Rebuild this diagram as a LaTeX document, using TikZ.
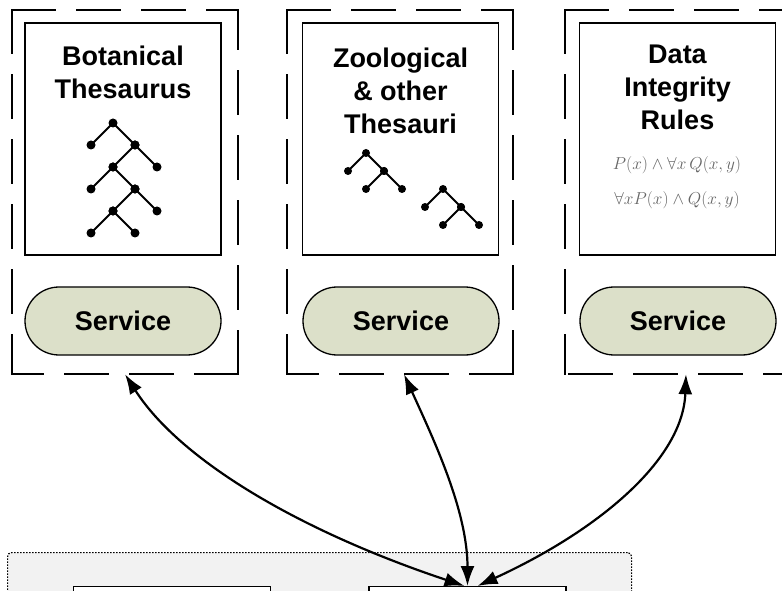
\documentclass[tikz,border=0pt]{standalone}
\usepackage{fontspec}
\setmainfont{Liberation Sans}
\usepackage{amsmath, amssymb}
\usetikzlibrary{arrows.meta}

\definecolor{svcfill}{HTML}{DCE0C9}
\definecolor{basefill}{HTML}{F2F2F2}

\tikzset{
  group/.style={minimum width=226pt, minimum height=364pt, inner sep=0pt},
  edge/.style={line width=2.3pt, dash pattern=on 43pt off 22pt, line cap=rect},
  panel/.style={draw, line width=1.3pt, fill=white, minimum width=196pt, minimum height=232pt, inner sep=0pt},
  svc/.style={draw, line width=1.3pt, fill=svcfill, rounded corners=34pt, minimum width=196pt,
    minimum height=68pt, font=\bfseries\fontsize{27}{33}\selectfont},
  heading/.style={anchor=north, align=center, inner sep=0pt, font=\bfseries\fontsize{27}{33}\selectfont},
  rule/.style={text=black!60, font=\fontsize{17}{20}\selectfont},
  store/.style={draw, line width=1.3pt, fill=white, minimum width=197pt, minimum height=40pt, anchor=north},
  twig/.style={line width=2pt},
  link/.style={line width=2.2pt, {Latex[length=20pt,width=14pt]}-{Latex[length=20pt,width=14pt]}},
}

\begin{document}
\begin{tikzpicture}[x=1pt, y=1pt]
  \clip (0,0) rectangle (782,590);

  % three service groups
  \node[group] (grpA) at (125,398) {};
  \node[group] (grpB) at (400,398) {};
  \node[group, minimum width=242pt] (grpC) at (686,398) {};
  \foreach \g in {grpA, grpB, grpC} {
    \draw[edge] (\g.north west) -- (\g.north east);
    \draw[edge] (\g.north west) -- (\g.south west);
    \draw[edge] (\g.south east) -- (\g.south west);
    \draw[edge] (\g.south east) -- (\g.north east);
  }

  \node[panel] (panA) at (123,451) {};
  \node[panel] (panB) at (400.5,451) {};
  \node[panel] (panC) at (677.5,451) {};

  \node[heading, yshift=-23pt] (ttlA) at (panA.north) {Botanical\\Thesaurus};
  \node[heading, yshift=-25pt] (ttlB) at (panB.north) {Zoological\\\& other\\Thesauri};
  \node[heading, yshift=-22pt] (ttlC) at (panC.north) {Data\\Integrity\\Rules};

  \node[svc] (svcA) at (123,269) {Service};
  \node[svc] (svcB) at (401,269) {Service};
  \node[svc] (svcC) at (678,269) {Service};

  % tree icons
  \foreach \x/\y in {113/467, 135/445, 113/423, 135/401, 113/379} {
    \draw[twig] (\x-22,\y-22) -- (\x,\y) -- (\x+22,\y-22);
    \fill (\x,\y) circle (4.5pt) (\x-22,\y-22) circle (4.5pt) (\x+22,\y-22) circle (4.5pt);
  }
  \foreach \x/\y in {366/437, 384/419, 443/401, 461/383} {
    \draw[twig] (\x-18,\y-18) -- (\x,\y) -- (\x+18,\y-18);
    \fill (\x,\y) circle (4pt) (\x-18,\y-18) circle (4pt) (\x+18,\y-18) circle (4pt);
  }

  \node[rule] (ruleA) at (677,425) {$P(x)\wedge\forall x\,Q(x,y)$};
  \node[rule] (ruleB) at (677,390) {$\forall x P(x)\wedge Q(x,y)$};

  % client side
  \node[draw, dash pattern=on 1.5pt off 1.5pt, line width=1.2pt, fill=basefill, rounded corners=4pt,
    minimum width=624pt, minimum height=80pt, anchor=north west] (base) at (7,38) {};
  \node[store] (storeA) at (172,4) {};
  \node[store] (storeB) at (467.5,4) {};

  \draw[link] (grpA.south) .. controls +(55,-86) and +(-165,55) .. ([xshift=-3pt]storeB.north);
  \draw[link] ([xshift=4pt]grpB.south) .. controls +(30,-66) and +(0,75) .. (storeB.north);
  \draw[link] (grpC.south) .. controls +(-3,-86) and +(120,55) .. ([xshift=10pt]storeB.north);
\end{tikzpicture}
\end{document}
